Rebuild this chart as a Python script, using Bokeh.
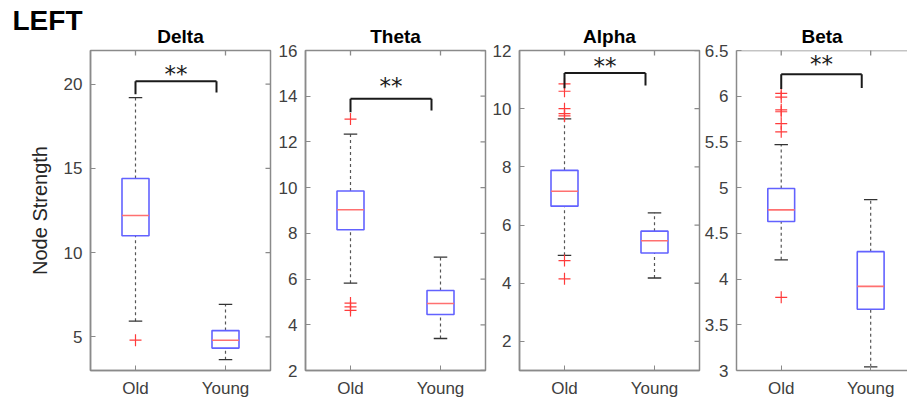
import math
from bokeh.plotting import figure
from bokeh.models import (ColumnDataSource, FixedTicker, Title, Range1d, Span,
                          CustomJSTickFormatter)
from bokeh.layouts import row
from bokeh.core.properties import value
from bokeh.embed import file_html
from bokeh.resources import INLINE

# ---------------- data ----------------
group_positions = [1, 2]
group_labels = ["Old", "Young"]
panel_names = ["Delta", "Theta", "Alpha", "Beta"]

# stats order: lower whisker, Q1, median, Q3, upper whisker
delta_old = [5.93, 11.0, 12.2, 14.4, 19.2]
delta_young = [3.64, 4.33, 4.8, 5.37, 6.93]
delta_old_out = [4.8]
delta_young_out = []
delta_sig = [20.18, 19.4, 19.5, 20.7]   # bar y, left leg end, right leg end, stars y
delta_ylim = [3, 22]
delta_yticks = [5, 10, 15, 20]

theta_old = [5.82, 8.16, 9.03, 9.85, 12.34]
theta_young = [3.4, 4.45, 4.93, 5.5, 6.96]
theta_old_out = [13.0, 4.95, 4.78, 4.63]
theta_young_out = []
theta_sig = [13.89, 13.3, 13.38, 14.54]
theta_ylim = [2, 16]
theta_yticks = [2, 4, 6, 8, 10, 12, 14, 16]

alpha_old = [4.96, 6.65, 7.16, 7.88, 9.65]
alpha_young = [4.18, 5.04, 5.46, 5.79, 6.42]
alpha_old_out = [10.85, 10.6, 10.0, 9.83, 9.75, 4.78, 4.15]
alpha_young_out = []
alpha_sig = [11.23, 10.7, 10.8, 11.54]
alpha_ylim = [1, 12]
alpha_yticks = [2, 4, 6, 8, 10, 12]

beta_old = [4.21, 4.63, 4.757, 4.99, 5.47]
beta_young = [3.04, 3.67, 3.92, 4.30, 4.87]
beta_old_out = [6.03, 5.99, 5.85, 5.83, 5.70, 5.61, 3.80]
beta_young_out = []
beta_sig = [6.24, 6.08, 6.09, 6.37]
beta_ylim = [3, 6.5]
beta_yticks = [3, 3.5, 4, 4.5, 5, 5.5, 6, 6.5]

sig_x = [1.0, 1.9]
sig_text = "**"
y_label = "Node Strength"
corner_label = "LEFT"

# ---------------- styling ----------------
FONT = "Liberation Sans"
AXIS_COLOR = "#8a8a8a"
LABEL_COLOR = "#404040"
BOX_COLOR = "#6262ff"
MED_COLOR = "#ff7070"
OUT_COLOR = "#ff3b3b"
WHISK_COLOR = "#555555"
BOX_W = 0.3
CAP_W = 0.15
H = 403
TOP = 50
BOTTOM = 33


def make_panel(name, ylim, yticks, old, young, old_out, young_out, sig,
               width, bl, br, xend, first=False, last=False):
    p = figure(width=width, height=H, x_range=Range1d(0.5, xend),
               y_range=Range1d(ylim[0], ylim[1]), output_backend="svg",
               toolbar_location=None, min_border_left=bl, min_border_right=br,
               min_border_top=TOP, min_border_bottom=BOTTOM, title=None)
    p.background_fill_color = "white"
    p.border_fill_color = "white"
    p.grid.visible = False
    if last:
        p.outline_line_color = None
        p.add_layout(Span(location=ylim[1], dimension="width", line_color=AXIS_COLOR,
                          line_width=1.5))
    else:
        p.outline_line_color = AXIS_COLOR
        p.outline_line_width = 1.5
        p.outline_line_alpha = 1.0

    p.add_layout(Title(text=name, align="center", text_font=FONT, text_font_size="19px",
                       text_font_style="bold", text_color="black", standoff=8), "above")
    if first:
        p.add_layout(Title(text=corner_label, align="left", offset=-78, text_font=FONT,
                           text_font_size="28px", text_font_style="bold",
                           text_color="black", standoff=-33), "above")

    # bottom axis
    xa = p.xaxis[0]
    xa.ticker = FixedTicker(ticks=group_positions)
    xa.major_label_overrides = {gp: gl for gp, gl in zip(group_positions, group_labels)}
    xa.major_label_text_font = FONT
    xa.major_label_text_font_size = "17px"
    xa.major_label_text_color = LABEL_COLOR
    xa.major_label_standoff = 8
    xa.major_tick_in = 5
    xa.major_tick_out = 0
    xa.minor_tick_line_color = None
    xa.axis_line_color = AXIS_COLOR
    xa.axis_line_width = 1.5
    xa.major_tick_line_color = AXIS_COLOR

    # left axis
    ya = p.yaxis[0]
    ya.ticker = FixedTicker(ticks=yticks)
    ya.formatter = CustomJSTickFormatter(code="return tick.toString();")
    ya.major_label_text_font = FONT
    ya.major_label_text_font_size = "17px"
    ya.major_label_text_color = LABEL_COLOR
    ya.major_label_standoff = 8
    ya.major_tick_in = 5
    ya.major_tick_out = 0
    ya.minor_tick_line_color = None
    ya.axis_line_color = AXIS_COLOR
    ya.axis_line_width = 1.5
    ya.major_tick_line_color = AXIS_COLOR
    if first:
        ya.axis_label = y_label
        ya.axis_label_text_font = FONT
        ya.axis_label_text_font_size = "20px"
        ya.axis_label_text_font_style = "normal"
        ya.axis_label_text_color = "#262626"
        ya.axis_label_standoff = 10

    # inward ticks on top and right (markers centred on the frame edge, clipped)
    p.scatter(x=group_positions, y=[ylim[1]] * len(group_positions), marker="dash",
              angle=math.pi / 2, size=10, line_color=AXIS_COLOR, line_width=1.3)
    if not last:
        p.scatter(x=[xend] * len(yticks), y=yticks, marker="dash", size=10,
                  line_color=AXIS_COLOR, line_width=1.3)

    stats = [old, young]
    xs = group_positions
    src = ColumnDataSource(dict(
        x=xs,
        lo=[s[0] for s in stats], q1=[s[1] for s in stats], med=[s[2] for s in stats],
        q3=[s[3] for s in stats], hi=[s[4] for s in stats],
        xl=[x - BOX_W / 2 for x in xs], xr=[x + BOX_W / 2 for x in xs],
        cl=[x - CAP_W / 2 for x in xs], cr=[x + CAP_W / 2 for x in xs],
    ))
    # whiskers (dashed)
    p.segment(x0="x", y0="q3", x1="x", y1="hi", source=src, line_color=WHISK_COLOR,
              line_width=1.2, line_dash="3 3")
    p.segment(x0="x", y0="lo", x1="x", y1="q1", source=src, line_color=WHISK_COLOR,
              line_width=1.2, line_dash="3 3")
    # caps
    p.segment(x0="cl", y0="hi", x1="cr", y1="hi", source=src, line_color="#333333", line_width=1.3)
    p.segment(x0="cl", y0="lo", x1="cr", y1="lo", source=src, line_color="#333333", line_width=1.3)
    # boxes
    p.quad(left="xl", right="xr", bottom="q1", top="q3", source=src, fill_color=None,
           line_color=BOX_COLOR, line_width=1.6)
    # medians
    p.segment(x0="xl", y0="med", x1="xr", y1="med", source=src, line_color=MED_COLOR, line_width=1.6)

    # outliers
    ox = [xs[0]] * len(old_out) + [xs[1]] * len(young_out)
    oy = list(old_out) + list(young_out)
    if oy:
        p.scatter(x=ox, y=oy, marker="cross", size=12, line_color=OUT_COLOR, line_width=1.2)

    # significance bracket
    p.segment(x0=[sig_x[0], sig_x[0], sig_x[1]], y0=[sig[0], sig[0], sig[0]],
              x1=[sig_x[1], sig_x[0], sig_x[1]], y1=[sig[0], sig[1], sig[2]],
              line_color="#1a1a1a", line_width=2)
    p.text(x=[(sig_x[0] + sig_x[1]) / 2], y=[sig[3]], text=[sig_text],
           text_align="center", text_baseline="middle", text_font=value("DejaVu Sans"),
           text_font_size="23px", text_color="#1a1a1a", y_offset=2)
    return p


p1 = make_panel(panel_names[0], delta_ylim, delta_yticks, delta_old, delta_young,
                delta_old_out, delta_young_out, delta_sig, 272, 90, 2, 2.5, first=True)
p2 = make_panel(panel_names[1], theta_ylim, theta_yticks, theta_old, theta_young,
                theta_old_out, theta_young_out, theta_sig, 215, 33, 2, 2.5)
p3 = make_panel(panel_names[2], alpha_ylim, alpha_yticks, alpha_old, alpha_young,
                alpha_old_out, alpha_young_out, alpha_sig, 214, 32, 2, 2.5)
p4 = make_panel(panel_names[3], beta_ylim, beta_yticks, beta_old, beta_young,
                beta_old_out, beta_young_out, beta_sig, 206, 33, 0, 0.5 + 173 / 90.5, last=True)

layout = row(p1, p2, p3, p4)
open("out.html", "w").write(file_html(layout, INLINE))
